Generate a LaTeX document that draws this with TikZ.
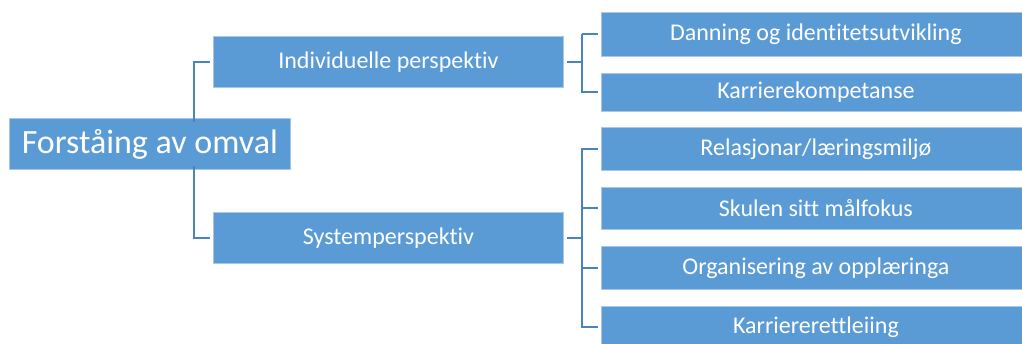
\documentclass[tikz,border=0pt]{standalone}
\usepackage{fontspec}
\setmainfont{Carlito}[Ligatures={NoCommon}]
\definecolor{boxfill}{HTML}{5B9BD5}
\definecolor{boxline}{HTML}{A9C8E8}
\definecolor{conn}{HTML}{4A84BE}
\begin{document}
\begin{tikzpicture}[x=1pt,y=-1pt,
  box/.style={fill=boxfill,draw=boxline,line width=0.8pt,text=white,inner sep=0pt,anchor=north west,align=center},
  lvl/.style={box,font=\fontsize{24}{26}\selectfont},
  link/.style={draw=conn,line width=2pt}]
\useasboundingbox (0,0) rectangle (1022,343);
\clip (0,0) rectangle (1022,343);
\node[box,font=\fontsize{34}{38}\selectfont,minimum width=281pt,minimum height=51pt] (root) at (9,118) {Forståing av omval};
\node[lvl,minimum width=350pt,minimum height=51pt] (ind) at (213,36) {Individuelle perspektiv};
\node[lvl,minimum width=350pt,minimum height=51pt] (sys) at (213,212) {Systemperspektiv};
\node[lvl,minimum width=429pt,minimum height=44pt] (a1) at (601,12) {Danning og identitetsutvikling};
\node[lvl,minimum width=429pt,minimum height=38pt] (a2) at (601,73) {Karrierekompetanse};
\node[lvl,minimum width=429pt,minimum height=43pt] (b1) at (601,127) {Relasjonar/læringsmiljø};
\node[lvl,minimum width=429pt,minimum height=42pt] (b2) at (601,187) {Skulen sitt målfokus};
\node[lvl,minimum width=429pt,minimum height=43pt] (b3) at (601,246) {Organisering av opplæringa};
\node[lvl,minimum width=429pt,minimum height=42pt] (b4) at (601,306) {Karriererettleiing};
\coordinate (rx) at (194,0);
\coordinate (ix) at (582,0);
\draw[link] ([yshift=-4pt]root.north -| rx) |- ([xshift=-3pt]ind.west);
\draw[link] ([yshift=4pt]root.south -| rx) |- ([xshift=-3pt]sys.west);
\draw[link] ([xshift=3pt]ind.east) -- (ind.east -| ix);
\draw[link] (a1.west -| ix) ++(0,0) |- ([xshift=-3pt]a1.west);
\draw[link] (a1.west -| ix) -- (a2.west -| ix) -- ([xshift=-3pt]a2.west);
\draw[link] ([xshift=3pt]sys.east) -- (sys.east -| ix);
\draw[link] ([xshift=-3pt]b1.west) -| (b4.west -| ix) -- ([xshift=-3pt]b4.west);
\draw[link] (b2.west -| ix) -- ([xshift=-3pt]b2.west);
\draw[link] (b3.west -| ix) -- ([xshift=-3pt]b3.west);
\end{tikzpicture}
\end{document}
